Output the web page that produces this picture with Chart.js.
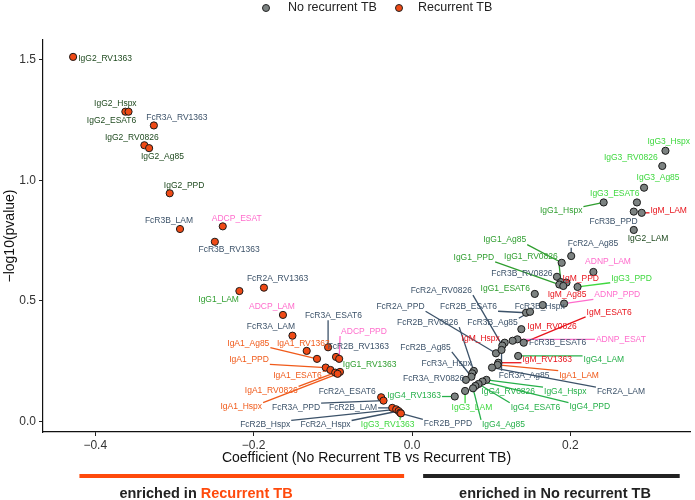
<!DOCTYPE html>
<html>
<head>
<meta charset="utf-8">
<script src="https://cdn.jsdelivr.net/npm/chart.js@4.4.1/dist/chart.umd.min.js"></script>
<style>
  html, body { margin: 0; padding: 0; background: #fff; }
  #wrap { width: 695px; height: 500px; }
</style>
</head>
<body>
<div id="wrap"><canvas id="chart"></canvas></div>
<script>
// Recurrent TB (orange) features
const recNames = ['IgG2_RV1363','IgG2_Hspx','IgG2_ESAT6','FcR3A_RV1363','IgG2_RV0826','IgG2_Ag85','IgG2_PPD','FcR3B_LAM','ADCP_ESAT','FcR3B_RV1363','FcR2A_RV1363','IgG1_LAM','ADCP_LAM','FcR3A_LAM','FcR3A_ESAT6','IgA1_RV1363','IgA1_Ag85','FcR2B_RV1363','ADCP_PPD','IgA1_PPD','IgG1_RV1363','IgA1_ESAT6','IgA1_RV0826','IgA1_Hspx','FcR2A_ESAT6','FcR3A_PPD','FcR2B_LAM','FcR2B_Hspx','FcR2A_Hspx','IgG3_RV1363','FcR2B_PPD'];
const recCoef = [-0.428,-0.362,-0.358,-0.326,-0.338,-0.332,-0.306,-0.293,-0.239,-0.249,-0.187,-0.218,-0.163,-0.151,-0.106,-0.133,-0.120,-0.096,-0.092,-0.109,-0.091,-0.103,-0.097,-0.094,-0.039,-0.036,-0.025,-0.020,-0.017,-0.015,-0.014];
const recLogP = [1.511,1.284,1.284,1.227,1.145,1.133,0.946,0.798,0.809,0.745,0.555,0.541,0.442,0.356,0.308,0.293,0.260,0.268,0.260,0.224,0.206,0.214,0.203,0.198,0.101,0.087,0.057,0.051,0.044,0.037,0.034];

// No recurrent TB (grey) features
const noRecNames = ['IgG3_Hspx','IgG3_RV0826','IgG3_Ag85','IgG3_ESAT6','IgG1_Hspx','FcR3B_PPD','IgM_LAM','IgG2_LAM','FcR2A_Ag85','IgG1_Ag85','ADNP_LAM','FcR3B_RV0826','IgG1_RV0826','IgG1_PPD','IgM_PPD','IgM_Ag85','IgG3_PPD','IgG1_ESAT6','FcR3B_Hspx','ADNP_PPD','FcR2B_ESAT6','IgM_RV0826','IgM_ESAT6','ADNP_ESAT','FcR3B_ESAT6','IgM_Hspx','FcR2A_RV0826','FcR3B_Ag85','FcR2A_PPD','IgG4_LAM','IgM_RV1363','IgA1_LAM','FcR2A_LAM','FcR2B_RV0826','FcR3A_Hspx','FcR2B_Ag85','FcR3A_RV0826','FcR3A_Ag85','IgG4_Hspx','IgG4_PPD','IgG4_ESAT6','IgG4_RV0826','IgG4_Ag85','IgG3_LAM','IgG4_RV1363'];
const noRecCoef = [0.320,0.316,0.293,0.284,0.242,0.280,0.290,0.280,0.201,0.189,0.229,0.183,0.188,0.186,0.195,0.191,0.209,0.155,0.165,0.192,0.144,0.138,0.141,0.133,0.127,0.117,0.114,0.149,0.106,0.134,0.109,0.108,0.101,0.078,0.076,0.075,0.068,0.113,0.094,0.089,0.084,0.080,0.077,0.067,0.054];
const noRecLogP = [1.122,1.059,0.969,0.908,0.908,0.870,0.865,0.794,0.686,0.658,0.620,0.600,0.578,0.568,0.576,0.562,0.558,0.529,0.483,0.489,0.451,0.383,0.327,0.341,0.335,0.327,0.315,0.455,0.283,0.272,0.244,0.235,0.224,0.210,0.200,0.186,0.173,0.297,0.173,0.166,0.156,0.148,0.138,0.127,0.104];

const xTicks = [-0.4, -0.2, 0.0, 0.2];
const yTicks = [0.0, 0.5, 1.0, 1.5];

// label placement (pixel offset of label centre from its point)
const recLabelOffset = [[32,2],[-10,-8.5],[-17,8.6],[23,-7.6],[-12.6,-7.3],[13.3,9],[14.4,-8],[-11,-8],[14,-8],[14.3,8.3],[13.6,-8.7],[-20.8,8.3],[-11,-8.3],[-21.5,-9],[5.3,-31.6],[-3.4,-7.7],[-68.7,-15.7],[22.3,-10.3],[24.8,-27.3],[-76.7,-7.7],[29.7,-7.7],[-33,6],[-64,18.3],[-96.3,33.3],[-34,-5.6],[-87.5,7],[-39.2,-0.3],[-131,15.5],[-73,14],[-12.5,11.6],[47,10.5]];
const noRecLabelOffset = [[3.2,-8.7],[-31.5,-8],[14,-9.7],[-22.2,-9],[-42.5,8.7],[-20.2,10],[27,-1.7],[14.3,8.3],[21.8,-12.7],[-57,-22.7],[14.6,-10.3],[-35,-3.4],[-30,-25.3],[-85.5,-27.2],[14.3,-4.4],[3.8,8.3],[54,-8.7],[-29.5,-5.7],[-3,1.7],[53.2,-8.7],[-57.5,-6],[30.7,-2.6],[85.5,-30.4],[103.5,0],[45,2],[-24,-3.7],[-61,-55],[-37.5,11],[-95.5,-46.6],[85.7,3.3],[48.8,-2.7],[81.5,10.3],[129,24],[-46.2,-48.3],[-25.6,-10],[-45.9,-29.4],[-32.2,-1.3],[22.6,25.3],[78.8,11.7],[107.3,25.6],[56.9,23.3],[32.8,5.7],[30.5,36],[6.8,16.7],[-40.7,-0.7]];

const FONT = '"Liberation Sans", Arial, sans-serif';
const ORANGE = '#ef4a16';
const GREY = '#7c8281';

function labelColor(name) {
  if (name.startsWith('IgG1')) return '#2f9e2f';
  if (name.startsWith('IgG2')) return '#1f4a1f';
  if (name.startsWith('IgG3')) return '#3fd83f';
  if (name.startsWith('IgG4')) return '#26b04a';
  if (name.startsWith('IgM')) return '#e8141c';
  if (name.startsWith('IgA1')) return '#f05a1a';
  if (name.startsWith('AD')) return '#ff6ccc';
  return '#3c5269';
}

function toPoints(xs, ys) {
  return xs.map((x, i) => ({ x: x, y: ys[i] }));
}

const labelSets = [
  { names: recNames, offsets: recLabelOffset },
  { names: noRecNames, offsets: noRecLabelOffset }
];

function labelBoxes(chart) {
  const ctx = chart.ctx;
  ctx.font = '8.5px ' + FONT;
  const out = [];
  labelSets.forEach((set, di) => {
    const meta = chart.getDatasetMeta(di);
    set.names.forEach((name, j) => {
      const el = meta.data[j];
      const cx = el.x + set.offsets[j][0];
      const cy = el.y + set.offsets[j][1];
      const w = ctx.measureText(name).width;
      out.push({ name, px: el.x, py: el.y, cx, cy, w });
    });
  });
  return out;
}

const repelLabels = {
  id: 'repelLabels',
  beforeDatasetsDraw(chart) {
    const ctx = chart.ctx;
    ctx.save();
    labelBoxes(chart).forEach(b => {
      const x0 = b.cx - b.w / 2 - 1, x1 = b.cx + b.w / 2 + 1;
      const y0 = b.cy - 4.5, y1 = b.cy + 4.5;
      const qx = Math.min(Math.max(b.px, x0), x1);
      const qy = Math.min(Math.max(b.py, y0), y1);
      const d = Math.hypot(qx - b.px, qy - b.py);
      if (d < 6) return;
      ctx.strokeStyle = labelColor(b.name);
      ctx.lineWidth = 1.3;
      ctx.beginPath();
      ctx.moveTo(qx, qy);
      ctx.lineTo(b.px, b.py);
      ctx.stroke();
    });
    ctx.restore();
  },
  afterDatasetsDraw(chart) {
    const ctx = chart.ctx;
    ctx.save();
    ctx.font = '8.5px ' + FONT;
    ctx.textAlign = 'center';
    ctx.textBaseline = 'middle';
    labelBoxes(chart).forEach(b => {
      ctx.fillStyle = labelColor(b.name);
      ctx.fillText(b.name, b.cx, b.cy);
    });
    ctx.restore();
  }
};

const extras = {
  id: 'extras',
  afterDraw(chart) {
    const ctx = chart.ctx;
    ctx.save();
    // legend
    ctx.font = '12.5px ' + FONT;
    ctx.textBaseline = 'middle';
    ctx.textAlign = 'left';
    [[266, GREY, 'No recurrent TB', 288], [399, ORANGE, 'Recurrent TB', 418]].forEach(l => {
      ctx.beginPath();
      ctx.arc(l[0], 8, 3.5, 0, Math.PI * 2);
      ctx.fillStyle = l[1];
      ctx.fill();
      ctx.lineWidth = 1;
      ctx.strokeStyle = '#222';
      ctx.stroke();
      ctx.fillStyle = '#222';
      ctx.fillText(l[2], l[3], 8);
    });
    // enrichment bars
    const xs = chart.scales.x;
    ctx.fillStyle = '#ff4a0c';
    const a0 = xs.getPixelForValue(-0.420), a1 = xs.getPixelForValue(-0.010);
    ctx.fillRect(a0, 474, a1 - a0, 4);
    ctx.fillStyle = '#222';
    const b0 = xs.getPixelForValue(0.014), b1 = xs.getPixelForValue(0.338);
    ctx.fillRect(b0, 474, b1 - b0, 4);
    ctx.font = 'bold 14.5px ' + FONT;
    const p1 = 'enriched in ', p2 = 'Recurrent TB';
    const w1 = ctx.measureText(p1).width, w2 = ctx.measureText(p2).width;
    let sx = 206 - (w1 + w2) / 2;
    ctx.fillStyle = '#222';
    ctx.fillText(p1, sx, 494);
    ctx.fillStyle = '#ff4a0c';
    ctx.fillText(p2, sx + w1, 494);
    ctx.fillStyle = '#222';
    ctx.textAlign = 'center';
    ctx.fillText('enriched in No recurrent TB', 555, 494);
    ctx.restore();
  }
};

const ctx = document.getElementById('chart').getContext('2d');
new Chart(ctx, {
  type: 'scatter',
  data: {
    datasets: [
      {
        label: 'Recurrent TB',
        data: toPoints(recCoef, recLogP),
        backgroundColor: ORANGE,
        borderColor: '#1a1a1a',
        borderWidth: 1,
        pointRadius: 3.6
      },
      {
        label: 'No recurrent TB',
        data: toPoints(noRecCoef, noRecLogP),
        backgroundColor: GREY,
        borderColor: '#1a1a1a',
        borderWidth: 1,
        pointRadius: 3.6
      }
    ]
  },
  options: {
    responsive: true,
    maintainAspectRatio: false,
    animation: false,
    layout: { padding: { top: 40, right: 5, bottom: 29, left: 0 } },
    plugins: {
      legend: { display: false },
      tooltip: { enabled: false }
    },
    scales: {
      x: {
        type: 'linear',
        min: -0.466,
        max: 0.351,
        afterFit(s) { s.height = 39; },
        afterBuildTicks(s) { s.ticks = xTicks.map(v => ({ value: v })); },
        grid: { display: true, drawOnChartArea: false, drawTicks: true, tickLength: 4, color: '#222', lineWidth: 1 },
        border: { display: true, color: '#111', width: 1.2 },
        ticks: {
          color: '#333',
          font: { family: FONT, size: 12 },
          padding: 2,
          maxRotation: 0,
          callback: v => (v < 0 ? '\u2212' : '') + Math.abs(v).toFixed(1)
        },
        title: {
          display: true,
          text: 'Coefficient (No Recurrent TB vs Recurrent TB)',
          color: '#111',
          font: { family: FONT, size: 14 },
          padding: { top: 2, bottom: 4 }
        }
      },
      y: {
        type: 'linear',
        min: -0.043,
        max: 1.581,
        afterFit(s) { s.width = 43; },
        afterBuildTicks(s) { s.ticks = yTicks.map(v => ({ value: v })); },
        grid: { display: true, drawOnChartArea: false, drawTicks: true, tickLength: 4, color: '#222', lineWidth: 1 },
        border: { display: true, color: '#111', width: 1.2 },
        ticks: {
          color: '#333',
          font: { family: FONT, size: 12 },
          padding: 3,
          callback: v => v.toFixed(1)
        },
        title: {
          display: true,
          text: '\u2212log10(pvalue)',
          color: '#111',
          font: { family: FONT, size: 14 },
          padding: { top: 2, bottom: 2 }
        }
      }
    }
  },
  plugins: [repelLabels, extras]
});
</script>
</body>
</html>
